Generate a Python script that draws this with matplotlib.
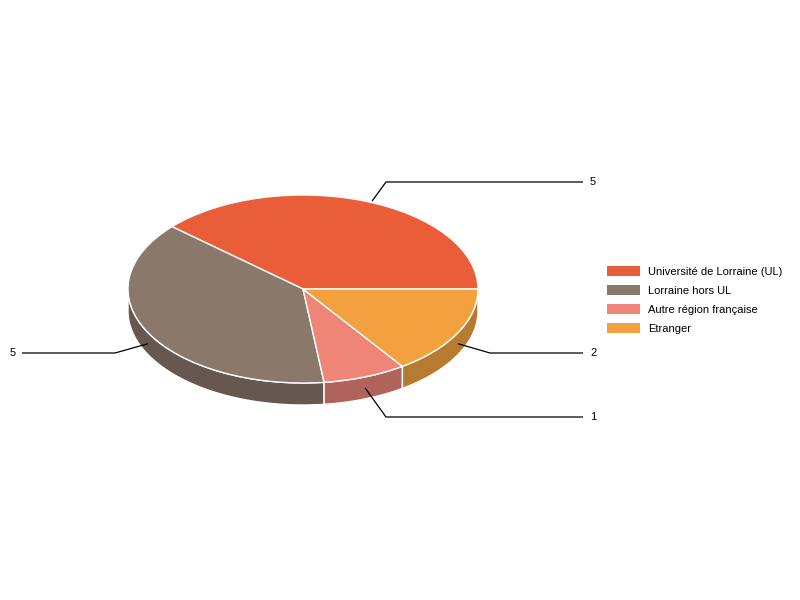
import numpy as np
import matplotlib
matplotlib.use("Agg")
import matplotlib.pyplot as plt
from matplotlib.patches import Polygon, Patch

# ---- data ----
categories = ["Université de Lorraine (UL)", "Lorraine hors UL",
              "Autre région française", "Etranger"]
values = [5, 5, 1, 2]
top_colors = ["#E95E38", "#8A786A", "#EE8577", "#F3A03F"]
side_colors = ["#A8442A", "#66584E", "#B0635B", "#B67B30"]

# ---- layout (pixels) ----
W, H = 800, 600
CX, CY, RX, RY, DEPTH = 303, 289, 175, 94, 22
# per slice: elbow x, label y, line end x, text x
label_layout = [
    (386, 182, 583, 590),
    (115, 353, 22, 10),
    (386, 417, 583, 590),
    (490, 353, 583, 590),
]

plt.rcParams["font.family"] = ["Liberation Sans", "DejaVu Sans"]

fig = plt.figure(figsize=(8, 6), dpi=100)
ax = fig.add_axes([0, 0, 1, 1])


def ux(px):
    return (px - CX) / RX


def uy(py):
    return (CY - py) / RY


d = DEPTH / RY

wedges, _ = ax.pie(values, colors=top_colors, startangle=0, counterclock=True,
                   radius=1, center=(0, 0),
                   wedgeprops=dict(edgecolor="white", linewidth=1))
for w in wedges:
    w.set_zorder(3)

# sides of the 3D pie (front half only)
for w, sc in zip(wedges, side_colors):
    a = max(w.theta1, 180)
    b = min(w.theta2, 360)
    if b <= a:
        continue
    t = np.radians(np.linspace(a, b, 120))
    top = np.column_stack([np.cos(t), np.sin(t)])
    bot = np.column_stack([np.cos(t[::-1]), np.sin(t[::-1]) - d])
    poly = Polygon(np.vstack([top, bot]), closed=True, facecolor=sc,
                   edgecolor="white", linewidth=1, zorder=2)
    ax.add_patch(poly)

# leader lines and value labels
for w, v, (ex, ly, endx, tx) in zip(wedges, values, label_layout):
    mid = np.radians((w.theta1 + w.theta2) / 2)
    x0, y0 = np.cos(mid) * 1.0, np.sin(mid)
    if y0 < 0:
        y0 -= d / 2
    else:
        x0 += 0.04
    ax.plot([x0, ux(ex), ux(endx)], [y0, uy(ly), uy(ly)], color="black",
            linewidth=0.9, zorder=4, solid_capstyle="butt")
    ax.text(ux(tx), uy(ly + 0.5), str(v), ha="left", va="center", fontsize=8,
            color="black", zorder=5)

ax.set_aspect("auto")
ax.set_xlim(ux(0), ux(W))
ax.set_ylim(uy(H), uy(0))
ax.axis("off")

handles = [Patch(facecolor=c, edgecolor="none") for c in top_colors]
leg = ax.legend(handles, categories, loc="center left",
                bbox_to_anchor=(607 / W, 1 - 300 / H),
                bbox_transform=fig.transFigure,
                frameon=False, fontsize=8, handlelength=2.97,
                handleheight=1.0, handletextpad=0.72, labelspacing=0.72,
                borderpad=0, borderaxespad=0)

fig.savefig("out.png", dpi=100, facecolor="white")
